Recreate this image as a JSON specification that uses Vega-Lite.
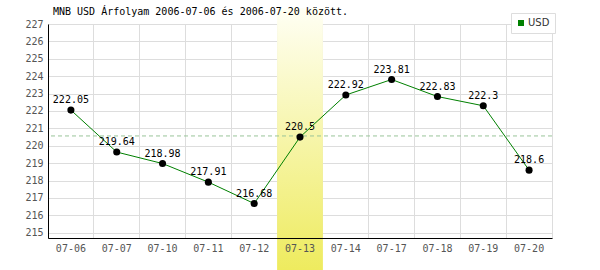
{
  "$schema": "https://vega.github.io/schema/vega-lite/v6.json",
  "width": 504,
  "height": 214,
  "autosize": "none",
  "padding": {"left": 48, "top": 24, "right": 48, "bottom": 32},
  "background": "white",
  "config": {
    "view": {"stroke": "#dddddd", "strokeWidth": 1},
    "font": "DejaVu Sans Mono"
  },
  "title": {
    "text": "MNB USD Árfolyam 2006-07-06 és 2006-07-20 között.",
    "anchor": "start",
    "frame": "group",
    "dx": 5,
    "offset": -17,
    "baseline": "alphabetic",
    "font": "DejaVu Sans Mono",
    "fontSize": 10,
    "fontWeight": "normal",
    "color": "#000000"
  },
  "datasets": {
    "rates": [
      {"d": "07-06", "v": 222.05},
      {"d": "07-07", "v": 219.64},
      {"d": "07-10", "v": 218.98},
      {"d": "07-11", "v": 217.91},
      {"d": "07-12", "v": 216.68},
      {"d": "07-13", "v": 220.5},
      {"d": "07-14", "v": 222.92},
      {"d": "07-17", "v": 223.81},
      {"d": "07-18", "v": 222.83},
      {"d": "07-19", "v": 222.3},
      {"d": "07-20", "v": 218.6}
    ],
    "band": [{"d": "07-13", "top": 227.9, "bottom": 212.85}]
  },
  "layer": [
    {
      "data": {"name": "band"},
      "mark": {
        "type": "rect",
        "color": {
          "gradient": "linear",
          "x1": 0, "y1": 0, "x2": 0, "y2": 1,
          "stops": [
            {"offset": 0, "color": "#fffff4"},
            {"offset": 1, "color": "#eeeb5e"}
          ]
        }
      },
      "encoding": {
        "x": {
          "field": "d", "type": "ordinal",
          "scale": {"type": "band", "paddingInner": 0, "paddingOuter": 0},
          "axis": {"orient": "bottom", "grid": true, "gridColor": "#dddddd", "gridWidth": 1, "bandPosition": 0, "labels": false, "ticks": false, "domain": false, "title": null, "zindex": 0, "minExtent": 0, "maxExtent": 0, "offset": 0}
        },
        "y": {
          "field": "top", "type": "quantitative",
          "scale": {"domain": [214.7, 227], "nice": false, "zero": false},
          "axis": {"values": [215,216,217,218,219,220,221,222,223,224,225,226,227], "tickCount": 13, "labelOverlap": false, "grid": true, "gridColor": "#dddddd", "ticks": false, "domainColor": "#000000", "domainWidth": 1, "labelColor": "#555555", "labelFont": "DejaVu Sans Mono", "labelFontSize": 10, "labelPadding": 5, "title": null, "zindex": 0}
        },
        "y2": {"field": "bottom"}
      }
    },
    {
      "data": {"name": "rates"},
      "layer": [
        {
          "mark": {"type": "rule", "color": "#99c499", "strokeDash": [4, 3], "strokeWidth": 1},
          "encoding": {
            "y": {"aggregate": "mean", "field": "v", "type": "quantitative"}
          }
        },
        {
          "mark": {"type": "line", "strokeWidth": 1, "color": "#008000"},
          "encoding": {
            "x": {"field": "d", "type": "ordinal", "axis": {"orient": "bottom", "grid": false, "ticks": false, "domainColor": "#000000", "domainWidth": 1, "labelColor": "#555555", "labelFont": "DejaVu Sans Mono", "labelFontSize": 10, "labelPadding": 5, "labelAngle": 0, "title": null, "zindex": 1, "offset": 0}},
            "y": {"field": "v", "type": "quantitative"}
          }
        },
        {
          "mark": {"type": "square", "size": 36, "opacity": 0},
          "encoding": {
            "x": {"field": "d", "type": "ordinal"},
            "y": {"field": "v", "type": "quantitative"},
            "color": {
              "datum": "USD",
              "type": "nominal",
              "scale": {"range": ["#008000"]},
              "legend": {
                "title": null,
                "orient": "none",
                "legendX": 463,
                "legendY": -11,
                "symbolType": "square",
                "symbolSize": 36,
                "symbolOpacity": 1,
                "symbolStrokeWidth": 0,
                "labelFont": "DejaVu Sans",
                "labelFontSize": 10,
                "labelColor": "#333333",
                "labelOffset": 2,
                "padding": 5,
                "strokeColor": "#dddddd",
                "fillColor": "white"
              }
            }
          }
        },
        {
          "mark": {"type": "circle", "size": 50, "color": "#000000", "opacity": 1},
          "encoding": {
            "x": {"field": "d", "type": "ordinal"},
            "y": {"field": "v", "type": "quantitative"}
          }
        },
        {
          "mark": {"type": "text", "dy": -7, "baseline": "alphabetic", "align": "center", "font": "DejaVu Sans Mono", "fontSize": 10, "color": "#000000"},
          "encoding": {
            "x": {"field": "d", "type": "ordinal"},
            "y": {"field": "v", "type": "quantitative"},
            "text": {"field": "v", "type": "quantitative"}
          }
        }
      ]
    }
  ],
  "resolve": {"axis": {"x": "independent"}}
}
